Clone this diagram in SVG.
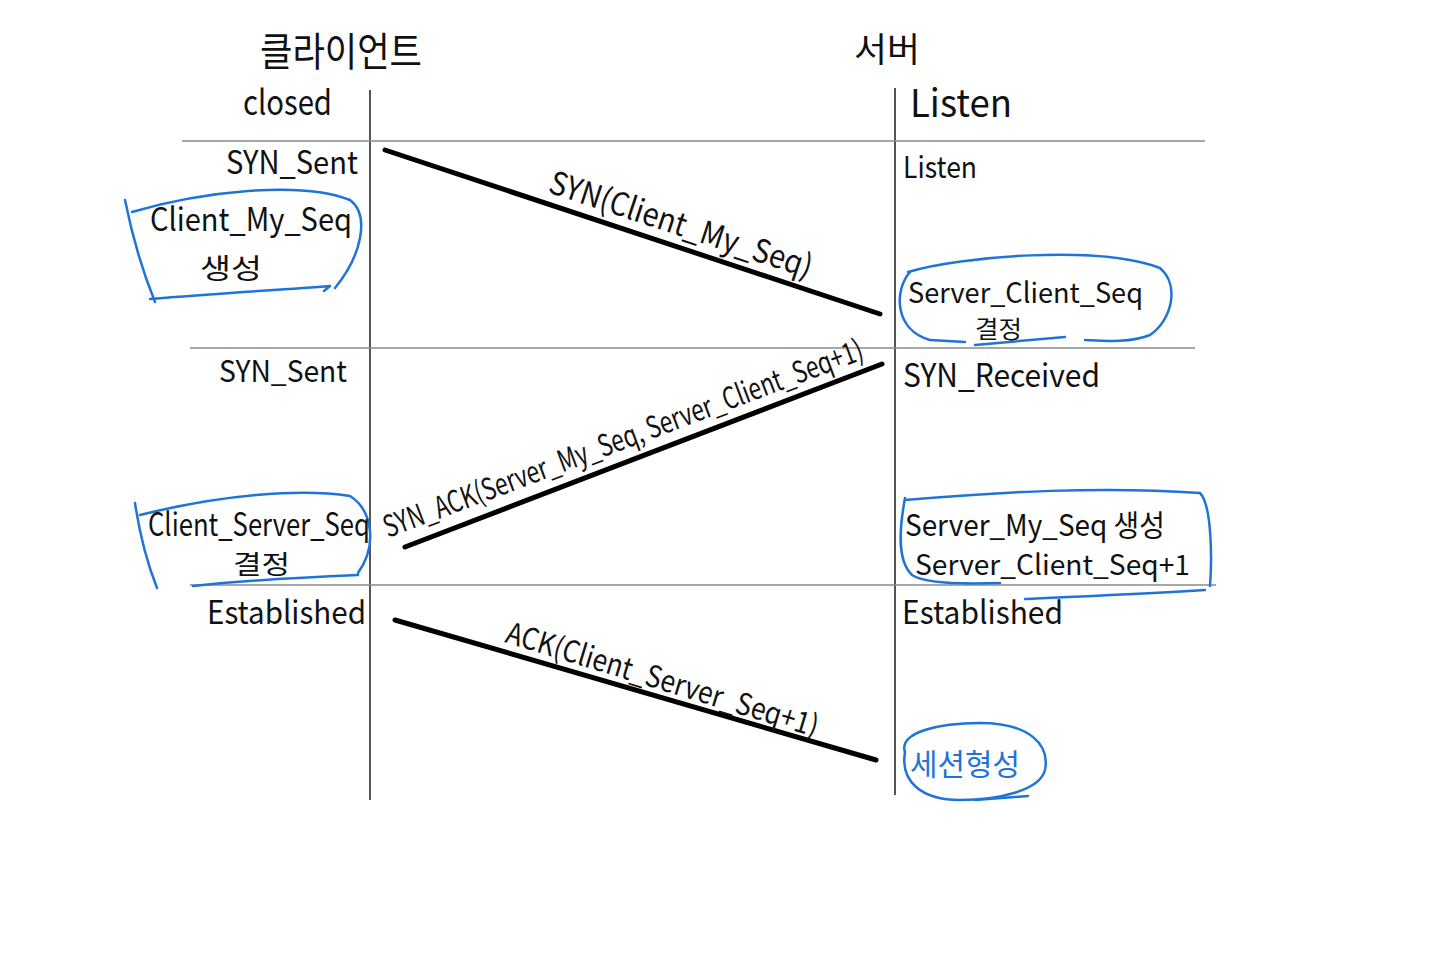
<svg xmlns="http://www.w3.org/2000/svg" width="1440" height="962" viewBox="0 0 1440 962">
<style>
  text { font-family: "Noto Sans CJK KR", "Noto Sans", "Liberation Sans", sans-serif; fill: #111; }
  .blue { fill: #1f74d8; }
  .scrib { fill: none; stroke: #1f74d8; stroke-width: 2.5; stroke-linecap: round; stroke-linejoin: round; }
  .vline { stroke: #2a2a2a; stroke-width: 1.6; }
  .hline { stroke: #8a8a8a; stroke-width: 1.5; }
  .msg { stroke: #000; stroke-width: 5; stroke-linecap: round; }
</style>
<rect width="1440" height="962" fill="#fff"/>

<g id="grid">
  <line class="vline" x1="370" y1="90" x2="370" y2="800"/>
  <line class="vline" x1="895" y1="88" x2="895" y2="795"/>
  <line class="hline" x1="182" y1="141" x2="1205" y2="141"/>
  <line class="hline" x1="190" y1="348" x2="1195" y2="348"/>
  <line class="hline" x1="190" y1="585" x2="1216" y2="585"/>
</g>

<g id="header-client"><text x="260" y="66" font-size="40" textLength="162" lengthAdjust="spacingAndGlyphs">클라이언트</text></g>
<g id="header-server"><text x="854" y="62" font-size="34" textLength="66" lengthAdjust="spacingAndGlyphs">서버</text></g>

<g id="client-closed"><text x="243" y="115" font-size="34" textLength="89" lengthAdjust="spacingAndGlyphs">closed</text></g>
<g id="server-listen-top"><text x="910" y="117" font-size="38" textLength="102" lengthAdjust="spacingAndGlyphs">Listen</text></g>

<g id="client-synsent-1"><text x="226" y="174" font-size="32" textLength="132" lengthAdjust="spacingAndGlyphs">SYN_Sent</text></g>
<g id="server-listen"><text x="903" y="178" font-size="30" textLength="74" lengthAdjust="spacingAndGlyphs">Listen</text></g>

<g id="client-my-seq">
  <path class="scrib" d="M125 200 Q136 255 155 302"/>
  <path class="scrib" d="M132 212 C200 192 300 180 350 200 C370 215 362 255 335 288"/>
  <path class="scrib" d="M150 299 C220 293 280 290 330 286 L324 291"/>
  <text x="150" y="231" font-size="32" textLength="202" lengthAdjust="spacingAndGlyphs">Client_My_Seq</text>
  <text x="200" y="279" font-size="28" textLength="62" lengthAdjust="spacingAndGlyphs">생성</text>
</g>

<g id="server-client-seq">
  <path class="scrib" d="M908 272 C960 256 1100 245 1160 268 C1180 285 1172 320 1150 335 C1130 343 1105 341 1085 340"/>
  <path class="scrib" d="M910 272 C894 290 894 330 930 340 L965 342"/>
  <path class="scrib" d="M975 345 L1065 337"/>
  <text x="908" y="303" font-size="28" textLength="235" lengthAdjust="spacingAndGlyphs">Server_Client_Seq</text>
  <text x="975" y="338" font-size="24" textLength="47" lengthAdjust="spacingAndGlyphs">결정</text>
</g>

<g id="client-synsent-2"><text x="219" y="382" font-size="30" textLength="128" lengthAdjust="spacingAndGlyphs">SYN_Sent</text></g>
<g id="server-synreceived"><text x="903" y="387" font-size="32" textLength="197" lengthAdjust="spacingAndGlyphs">SYN_Received</text></g>

<g id="client-server-seq">
  <path class="scrib" d="M135 503 Q142 550 157 588"/>
  <path class="scrib" d="M140 515 C220 495 300 488 350 496 C372 510 378 545 358 573"/>
  <path class="scrib" d="M193 586 C250 580 310 577 358 575"/>
  <text x="148" y="536" font-size="32" textLength="222" lengthAdjust="spacingAndGlyphs">Client_Server_Seq</text>
  <text x="233" y="574" font-size="26" textLength="57" lengthAdjust="spacingAndGlyphs">결정</text>
</g>

<g id="server-my-seq">
  <path class="scrib" d="M905 500 C1000 492 1100 486 1200 493 C1212 505 1212 560 1210 586"/>
  <path class="scrib" d="M905 498 C900 525 896 560 912 575 C925 584 970 584 1000 583"/>
  <path class="scrib" d="M1205 590 C1140 594 1070 597 1025 599"/>
  <text x="905" y="536" font-size="30" textLength="260" lengthAdjust="spacingAndGlyphs">Server_My_Seq 생성</text>
  <text x="915" y="575" font-size="28" textLength="275" lengthAdjust="spacingAndGlyphs">Server_Client_Seq+1</text>
</g>

<g id="client-established"><text x="207" y="624" font-size="32" textLength="159" lengthAdjust="spacingAndGlyphs">Established</text></g>
<g id="server-established"><text x="902" y="624" font-size="32" textLength="161" lengthAdjust="spacingAndGlyphs">Established</text></g>

<g id="session-established">
  <path class="scrib" d="M905 752 C898 732 940 723 980 723 C1030 723 1050 745 1045 770 C1040 790 1000 800 960 800 C922 800 900 782 905 752"/>
  <path class="scrib" d="M975 800 L1028 796"/>
  <text class="blue" x="910" y="775" font-size="30" textLength="110" lengthAdjust="spacingAndGlyphs">세션형성</text>
</g>

<g id="connectors">
  <line class="msg" x1="385" y1="150" x2="880" y2="314"/>
  <text x="547" y="192" font-size="32" textLength="275" lengthAdjust="spacingAndGlyphs" transform="rotate(18.3 547 192)">SYN(Client_My_Seq)</text>
  <line class="msg" x1="405" y1="547" x2="882" y2="364"/>
  <text x="388" y="538" font-size="30" textLength="510" lengthAdjust="spacingAndGlyphs" transform="rotate(-20.6 388 538)">SYN_ACK(Server_My_Seq, Server_Client_Seq+1)</text>
  <line class="msg" x1="395" y1="620" x2="876" y2="760"/>
  <text x="504" y="642" font-size="30" textLength="325" lengthAdjust="spacingAndGlyphs" transform="rotate(17 504 642)">ACK(Client_Server_Seq+1)</text>
</g>
</svg>
